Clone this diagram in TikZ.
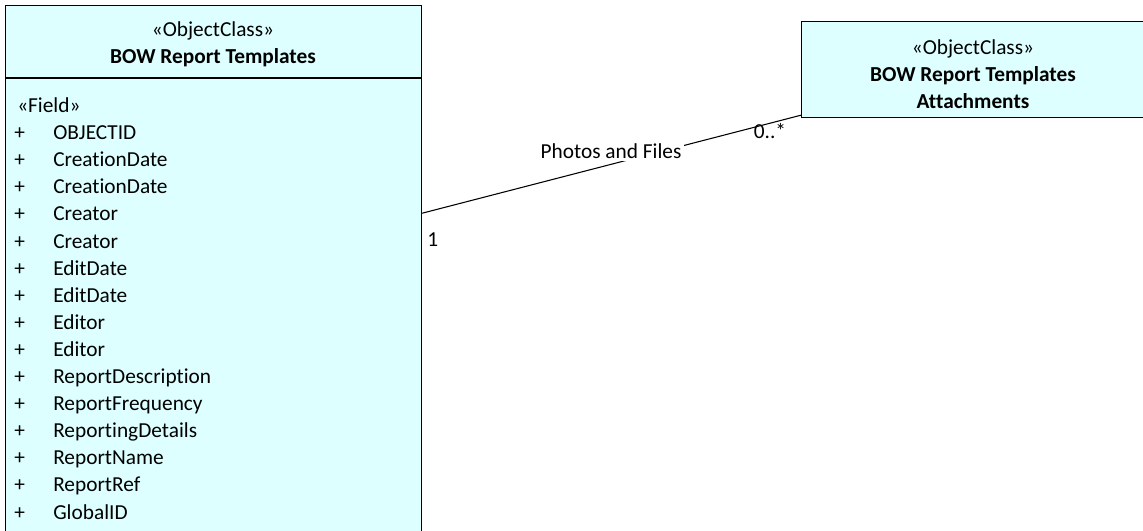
\documentclass[tikz,border=0pt]{standalone}
\usepackage{fontspec}
\setmainfont[Ligatures=NoCommon]{Carlito}
\usetikzlibrary{calc}
\definecolor{classfill}{RGB}{221,255,255}

\begin{document}
\begin{tikzpicture}[x=0.75pt,y=-0.75pt,line cap=round]
	\tikzstyle{classbox}=[draw=black,fill=classfill,line width=0.9pt,inner sep=0pt,anchor=north west];
	\tikzstyle{uml}=[font=\fontsize{16}{20.25}\selectfont,inner sep=0pt];
	\tikzstyle{assoc}=[draw=black,line width=0.8pt];

	\useasboundingbox (0,0) rectangle (1143,531);
	\clip (0,0) rectangle (1143,531);

	\node[classbox,minimum width=312pt,minimum height=54pt] (bowhead) at (5,5) {};
	\node[classbox,minimum width=312pt,minimum height=360pt] (bowbody) at (bowhead.south west) {};
	\node[classbox,minimum width=258pt,minimum height=72pt] (att) at (801,21) {};

	\node[uml,align=center] (bowtitle) at (213,44) {«ObjectClass»\\\textbf{BOW Report Templates}};
	\node[uml,align=center] (atttitle) at (973,74) {«ObjectClass»\\\textbf{BOW Report Templates}\\\textbf{Attachments}};

	\node[uml,anchor=base west] (stereo) at (17,113) {«Field»};
	\foreach \f [count=\i] in {OBJECTID,CreationDate,CreationDate,Creator,Creator,EditDate,EditDate,Editor,Editor,ReportDescription,ReportFrequency,ReportingDetails,ReportName,ReportRef,GlobalID}{
		\node[uml,anchor=base west] (plus\i) at (14,112.5+27.1*\i) {+};
		\node[uml,anchor=base west] (field\i) at (53,112.5+27.1*\i) {\f};
	}

	\coordinate (end1) at ($(bowbody.north east)+(0,135)$);
	\coordinate (end2) at ($(att.south west)+(0,-3)$);
	\draw[assoc] (end1) -- (end2);
	\node[uml,fill=white,inner sep=2pt] (assocname) at (611,151) {Photos and Files};
	\node[uml,anchor=west] (mult1) at (427,240) {1};
	\node[uml] (mult2) at (770,131) {0..*};
\end{tikzpicture}
\end{document}
